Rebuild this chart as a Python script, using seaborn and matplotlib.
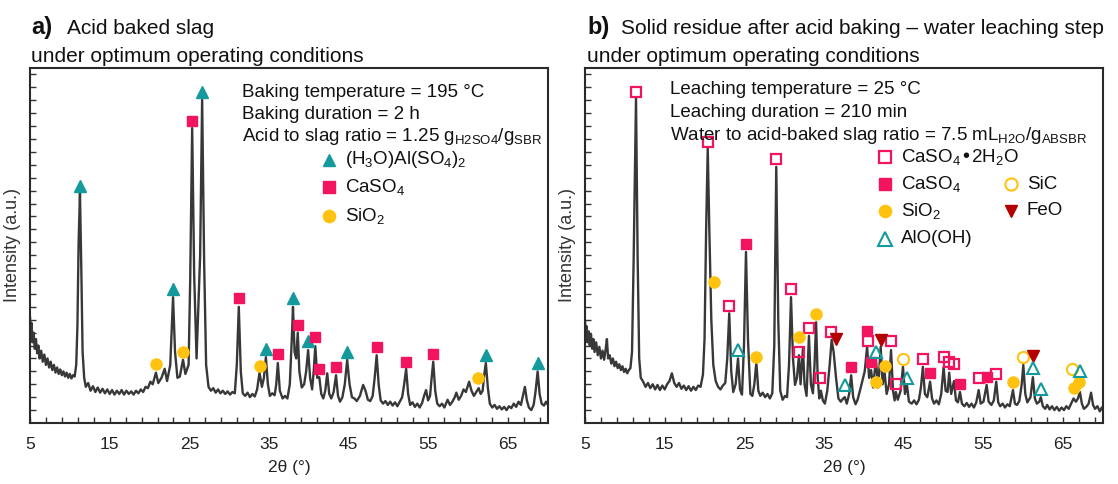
import matplotlib
matplotlib.use('Agg')
import matplotlib.pyplot as plt
from matplotlib.lines import Line2D
import pandas as pd
import seaborn as sns

# XRD traces: (2theta, intensity in a.u.)
trace_a = [
    (5.0, 1650), (5.1, 1350), (5.2, 1550), (5.3, 1250), (5.45, 1400), (5.6, 1150), (5.75, 1300),
    (5.9, 1080), (6.05, 1200), (6.2, 1000), (6.4, 1120), (6.6, 950), (6.8, 1060), (7.0, 900),
    (7.2, 1000), (7.4, 860), (7.6, 950), (7.8, 820), (8.0, 900), (8.2, 780), (8.4, 860),
    (8.6, 760), (8.8, 830), (9.0, 740), (9.2, 800), (9.4, 720), (9.6, 780), (9.8, 700),
    (10.0, 760), (10.2, 690), (10.4, 740), (10.6, 720), (10.8, 900), (10.95, 1500), (11.1, 2800),
    (11.27, 3565), (11.45, 2300), (11.6, 1100), (11.8, 700), (12.0, 560), (12.3, 620), (12.6, 500),
    (12.9, 570), (13.2, 480), (13.5, 550), (13.8, 470), (14.1, 530), (14.4, 460), (14.7, 520),
    (15.0, 450), (15.3, 510), (15.6, 440), (15.9, 500), (16.2, 450), (16.5, 510), (16.8, 440),
    (17.1, 500), (17.4, 450), (17.7, 490), (18.0, 440), (18.3, 500), (18.6, 460), (18.9, 520),
    (19.2, 480), (19.5, 560), (19.8, 540), (20.1, 640), (20.4, 600), (20.8, 780), (21.1, 620),
    (21.5, 700), (21.9, 840), (22.2, 650), (22.6, 900), (22.95, 1950), (23.2, 1100), (23.5, 700),
    (23.8, 720), (24.2, 980), (24.5, 760), (24.9, 900), (25.1, 2200), (25.35, 4570), (25.6, 2300),
    (25.9, 1000), (26.35, 2600), (26.6, 5010), (26.85, 2500), (27.1, 900), (27.4, 560), (27.7, 500),
    (28.0, 540), (28.3, 470), (28.6, 520), (28.9, 460), (29.2, 500), (29.5, 450), (29.8, 490),
    (30.1, 440), (30.4, 480), (30.7, 460), (30.95, 900), (31.2, 1800), (31.45, 800), (31.7, 460),
    (32.0, 420), (32.3, 470), (32.6, 400), (32.9, 450), (33.2, 410), (33.5, 520), (33.8, 780),
    (34.1, 560), (34.35, 700), (34.6, 1020), (34.85, 600), (35.1, 420), (35.4, 460), (35.7, 430),
    (35.9, 600), (36.1, 930), (36.35, 500), (36.7, 380), (37.0, 420), (37.3, 380), (37.6, 600),
    (37.85, 1300), (38.0, 1800), (38.2, 1100), (38.4, 1000), (38.6, 1400), (38.8, 800), (39.1, 550),
    (39.4, 600), (39.65, 800), (39.9, 1130), (40.15, 700), (40.4, 520), (40.6, 800), (40.8, 1190),
    (41.05, 700), (41.3, 710), (41.55, 450), (41.8, 380), (42.05, 500), (42.3, 770), (42.55, 450),
    (42.8, 380), (43.1, 480), (43.4, 740), (43.65, 420), (43.9, 330), (44.2, 400), (44.5, 600),
    (44.8, 980), (45.1, 600), (45.4, 400), (45.7, 380), (46.0, 340), (46.4, 420), (46.8, 590),
    (47.1, 500), (47.4, 360), (47.7, 340), (48.0, 420), (48.25, 700), (48.5, 1050), (48.75, 600),
    (49.0, 350), (49.3, 300), (49.6, 340), (49.9, 280), (50.2, 330), (50.5, 270), (50.8, 320),
    (51.1, 260), (51.4, 330), (51.7, 400), (51.95, 600), (52.2, 840), (52.45, 450), (52.7, 280),
    (53.0, 320), (53.3, 250), (53.6, 300), (53.9, 240), (54.2, 310), (54.45, 420), (54.7, 510),
    (54.95, 350), (55.2, 420), (55.4, 700), (55.6, 950), (55.85, 500), (56.1, 300), (56.4, 260),
    (56.7, 300), (57.0, 240), (57.4, 360), (57.7, 280), (58.0, 330), (58.3, 400), (58.5, 470),
    (58.8, 360), (59.1, 420), (59.4, 520), (59.7, 480), (60.1, 640), (60.4, 500), (60.7, 420),
    (61.0, 480), (61.3, 540), (61.55, 450), (61.8, 500), (62.0, 750), (62.2, 930), (62.45, 550),
    (62.7, 300), (63.0, 240), (63.3, 280), (63.6, 220), (63.9, 260), (64.2, 210), (64.5, 250),
    (64.8, 200), (65.1, 260), (65.4, 230), (65.7, 300), (66.0, 250), (66.3, 330), (66.6, 280),
    (66.85, 420), (67.1, 560), (67.35, 350), (67.6, 240), (67.9, 200), (68.2, 280), (68.45, 500),
    (68.7, 800), (68.95, 450), (69.2, 300), (69.5, 270), (69.75, 330), (70.0, 280),
]

trace_b = [
    (5.0, 1600), (5.1, 1300), (5.2, 1500), (5.3, 1250), (5.45, 1420), (5.6, 1200), (5.75, 1380),
    (5.9, 1150), (6.05, 1300), (6.2, 1100), (6.4, 1250), (6.6, 1050), (6.8, 1180), (7.0, 1000),
    (7.2, 1120), (7.4, 980), (7.6, 1150), (7.75, 1300), (7.9, 1000), (8.1, 1050), (8.3, 920),
    (8.5, 1000), (8.7, 880), (8.9, 950), (9.1, 850), (9.3, 910), (9.5, 820), (9.7, 880),
    (9.9, 790), (10.1, 840), (10.3, 770), (10.5, 820), (10.7, 850), (10.9, 1100), (11.1, 2500),
    (11.4, 5040), (11.6, 2600), (11.8, 1000), (12.0, 700), (12.3, 640), (12.6, 560), (12.9, 620),
    (13.2, 540), (13.5, 600), (13.8, 520), (14.1, 590), (14.4, 510), (14.7, 580), (15.0, 520),
    (15.3, 600), (15.6, 650), (15.9, 770), (16.2, 620), (16.5, 560), (16.8, 620), (17.1, 530),
    (17.4, 580), (17.7, 510), (18.0, 570), (18.3, 500), (18.6, 560), (18.9, 510), (19.2, 580),
    (19.5, 560), (19.8, 750), (20.0, 1300), (20.2, 3000), (20.4, 4260), (20.6, 3000), (20.85, 1600),
    (21.1, 900), (21.4, 650), (21.7, 560), (22.0, 520), (22.3, 580), (22.6, 620), (22.85, 1000),
    (23.1, 1700), (23.35, 800), (23.6, 480), (23.9, 600), (24.2, 1000), (24.45, 520), (24.7, 440),
    (24.95, 1200), (25.2, 2650), (25.45, 1300), (25.75, 450), (26.0, 420), (26.25, 600), (26.5, 940),
    (26.75, 500), (27.0, 420), (27.3, 470), (27.6, 400), (27.9, 450), (28.2, 380), (28.5, 460),
    (28.75, 1200), (29.0, 3970), (29.25, 1600), (29.5, 500), (29.8, 360), (30.1, 420), (30.35, 400),
    (30.6, 900), (30.85, 1950), (31.1, 1000), (31.35, 590), (31.6, 700), (31.85, 1050), (32.05, 600),
    (32.35, 1160), (32.55, 600), (32.8, 420), (33.1, 1350), (33.35, 600), (33.6, 460), (33.8, 900),
    (34.0, 1560), (34.2, 700), (34.4, 380), (34.6, 500), (34.85, 350), (35.1, 300), (35.4, 500),
    (35.7, 900), (35.95, 1290), (36.2, 1100), (36.5, 700), (36.8, 380), (37.1, 330), (37.4, 380),
    (37.6, 400), (37.85, 300), (38.15, 450), (38.4, 740), (38.65, 400), (38.95, 290), (39.2, 360),
    (39.5, 500), (39.8, 650), (40.1, 800), (40.4, 1180), (40.65, 700), (40.9, 820), (41.15, 550),
    (41.5, 980), (41.8, 550), (42.1, 1180), (42.35, 600), (42.6, 780), (42.85, 450), (43.15, 600),
    (43.4, 1130), (43.65, 500), (43.85, 350), (44.0, 480), (44.25, 360), (44.6, 500), (44.9, 870),
    (45.15, 450), (45.4, 590), (45.65, 330), (46.0, 300), (46.3, 350), (46.6, 290), (46.9, 360),
    (47.15, 550), (47.4, 870), (47.65, 450), (47.95, 400), (48.3, 640), (48.55, 380), (48.8, 300),
    (49.1, 350), (49.4, 290), (49.7, 450), (50.0, 870), (50.25, 500), (50.5, 480), (50.7, 780),
    (50.95, 450), (51.3, 650), (51.55, 350), (51.8, 320), (52.05, 480), (52.3, 300), (52.6, 260),
    (52.9, 310), (53.2, 250), (53.5, 300), (53.8, 240), (54.1, 320), (54.4, 510), (54.65, 300),
    (55.0, 330), (55.4, 590), (55.65, 330), (56.0, 280), (56.3, 350), (56.6, 640), (56.85, 320),
    (57.1, 260), (57.4, 300), (57.7, 240), (58.0, 290), (58.3, 260), (58.7, 510), (58.95, 300),
    (59.2, 280), (59.5, 340), (59.8, 600), (60.0, 900), (60.25, 450), (60.5, 320), (60.9, 400),
    (61.2, 710), (61.45, 380), (61.7, 300), (62.0, 330), (62.2, 400), (62.45, 260), (62.75, 220),
    (63.0, 280), (63.3, 210), (63.6, 260), (63.9, 200), (64.2, 250), (64.5, 190), (64.8, 240),
    (65.1, 200), (65.4, 260), (65.7, 220), (66.0, 300), (66.3, 380), (66.6, 330), (66.85, 380),
    (67.1, 480), (67.35, 300), (67.6, 220), (67.9, 250), (68.2, 300), (68.5, 470), (68.75, 280),
    (69.0, 220), (69.3, 260), (69.6, 180), (69.85, 240), (70.0, 200),
]

# phase markers, panel a
h3oal_a_theta = [11.27, 22.95, 26.6, 34.6, 38.0, 39.9, 44.8, 62.2, 68.7]
h3oal_a_int = [3674, 2077, 5131, 1147, 1938, 1271, 1100, 1054, 930]
caso4_a_theta = [25.35, 31.2, 36.1, 38.6, 40.8, 41.3, 43.4, 48.5, 52.2, 55.6]
caso4_a_int = [4681, 1938, 1070, 1519, 1333, 837, 868, 1178, 946, 1070]
sio2_a_theta = [20.8, 24.2, 33.9, 61.2]
sio2_a_int = [915, 1100, 884, 698]

# phase markers, panel b
gyps_b_theta = [11.4, 20.4, 23.1, 29.0, 30.85, 31.85, 33.1, 34.5, 35.9, 40.5, 43.4, 44.0,
                47.4, 50.0, 50.7, 51.3, 54.4, 56.6]
gyps_b_int = [5131, 4356, 1814, 4092, 2077, 1100, 1473, 698, 1411, 1271, 1271, 605,
              992, 1023, 946, 915, 698, 760]
caso4_b_theta = [25.2, 38.4, 40.4, 40.9, 48.3, 52.05, 55.4]
caso4_b_int = [2775, 868, 1426, 946, 775, 605, 713]
sio2_b_theta = [21.2, 26.5, 31.85, 34.0, 41.5, 42.6, 58.7, 67.0, 66.4]
sio2_b_int = [2186, 1023, 1333, 1690, 636, 884, 636, 636, 543]
sic_b_theta = [44.9, 60.0, 66.1]
sic_b_int = [992, 1023, 837]
feo_b_theta = [36.5, 42.1, 61.2]
feo_b_int = [1302, 1287, 1039]
aloh_b_theta = [24.2, 37.6, 41.5, 45.4, 61.2, 62.2, 67.1]
aloh_b_int = [1132, 589, 1100, 698, 853, 527, 806]

TEAL = '#129a9c'
PINK = '#f2145f'
GOLD = '#ffc20e'
DARKRED = '#b30000'
LINE = '#383838'

styles = {
    'h3oal': dict(marker='^', mfc=TEAL, mec=TEAL, ms=8.5, mew=1),
    'caso4': dict(marker='s', mfc=PINK, mec=PINK, ms=7.5, mew=1),
    'sio2': dict(marker='o', mfc=GOLD, mec=GOLD, ms=8, mew=1),
    'gyps': dict(marker='s', mfc='none', mec=PINK, ms=7.5, mew=1.6),
    'sic': dict(marker='o', mfc='none', mec=GOLD, ms=8, mew=1.5),
    'feo': dict(marker='v', mfc=DARKRED, mec=DARKRED, ms=8, mew=1),
    'aloh': dict(marker='^', mfc='none', mec=TEAL, ms=9, mew=1.5),
}

sns.set_style('ticks')
plt.rcParams['font.family'] = ['Liberation Sans', 'DejaVu Sans']
plt.rcParams['mathtext.default'] = 'regular'
plt.rcParams['text.color'] = '#111111'

W, H = 1118, 484
fig = plt.figure(figsize=(W / 100, H / 100), dpi=100)


def px_rect(left, top, right, bottom):
    return [left / W, 1 - bottom / H, (right - left) / W, (bottom - top) / H]


def fxy(px, py):
    return px / W, 1 - py / H


axA = fig.add_axes(px_rect(30, 68, 548, 423))
axB = fig.add_axes(px_rect(585, 68, 1103, 423))


def draw_trace(ax, trace):
    df = pd.DataFrame(trace, columns=['theta', 'counts'])
    sns.lineplot(data=df, x='theta', y='counts', ax=ax, color=LINE, linewidth=1.7,
                 estimator=None, sort=False)


def style_axes(ax):
    ax.set_xlim(5, 70)
    ax.set_ylim(0, 5500)
    ticks = list(range(5, 70, 2))
    ax.set_xticks(ticks)
    ax.set_xticklabels([str(t) if (t - 5) % 10 == 0 else '' for t in ticks])
    ax.set_yticks(list(range(200, 5500, 200)))
    ax.set_yticklabels([])
    ax.tick_params(axis='both', direction='in', length=4.5, width=1, color='#333333')
    ax.tick_params(axis='x', labelsize=12.5, pad=10, labelcolor='#222222')
    ax.tick_params(axis='y', length=4)
    for s in ax.spines.values():
        s.set_visible(True)
        s.set_linewidth(1.5)
        s.set_color('#2a2a2a')
    ax.set_xlabel('2θ (°)', fontsize=12.5, labelpad=6, color='#222222')
    ax.set_ylabel('Intensity (a.u.)', fontsize=13, labelpad=3, color='#333333')


draw_trace(axA, trace_a)
draw_trace(axB, trace_b)

axA.plot(h3oal_a_theta, h3oal_a_int, ls='none', **styles['h3oal'])
axA.plot(caso4_a_theta, caso4_a_int, ls='none', **styles['caso4'])
axA.plot(sio2_a_theta, sio2_a_int, ls='none', **styles['sio2'])

axB.plot(gyps_b_theta, gyps_b_int, ls='none', **styles['gyps'])
axB.plot(caso4_b_theta, caso4_b_int, ls='none', **styles['caso4'])
axB.plot(sio2_b_theta, sio2_b_int, ls='none', **styles['sio2'])
axB.plot(sic_b_theta, sic_b_int, ls='none', **styles['sic'])
axB.plot(feo_b_theta, feo_b_int, ls='none', **styles['feo'])
axB.plot(aloh_b_theta, aloh_b_int, ls='none', **styles['aloh'])

style_axes(axA)
style_axes(axB)

# titles
fig.text(*fxy(31, 34), 'a)', fontsize=17, fontweight='bold', va='baseline')
fig.text(*fxy(67, 34), 'Acid baked slag', fontsize=15, va='baseline')
fig.text(*fxy(31, 62), 'under optimum operating conditions', fontsize=15, va='baseline')
fig.text(*fxy(587, 34), 'b)', fontsize=17, fontweight='bold', va='baseline')
fig.text(*fxy(621, 34), 'Solid residue after acid baking – water leaching step', fontsize=15, va='baseline')
fig.text(*fxy(587, 62), 'under optimum operating conditions', fontsize=15, va='baseline')

# operating conditions
cond_a = ['Baking temperature = 195 °C', 'Baking duration = 2 h',
          'Acid to slag ratio = 1.25 g$_{H2SO4}$/g$_{SBR}$']
for txt, py in zip(cond_a, [97, 119, 141]):
    fig.text(*fxy(242, py), txt, fontsize=13.5, va='baseline')
cond_b = ['Leaching temperature = 25 °C', 'Leaching duration = 210 min',
          'Water to acid-baked slag ratio = 7.5 mL$_{H2O}$/g$_{ABSBR}$']
for txt, py in zip(cond_b, [94, 117, 140]):
    fig.text(*fxy(670, py), txt, fontsize=13.5, va='baseline')


def legend_item(px, py, key, label):
    x, y = fxy(px, py)
    st = dict(styles[key])
    st['ms'] = st['ms'] + 0.8
    fig.add_artist(Line2D([x], [y], ls='none', transform=fig.transFigure, **st))
    fig.text(x + 16 / W, y, label, fontsize=13.5, va='center')


legend_item(329, 160, 'h3oal', '(H$_3$O)Al(SO$_4$)$_2$')
legend_item(329, 187, 'caso4', 'CaSO$_4$')
legend_item(329, 216, 'sio2', 'SiO$_2$')

legend_item(885, 157, 'gyps', 'CaSO$_4$•2H$_2$O')
legend_item(885, 184, 'caso4', 'CaSO$_4$')
legend_item(885, 211, 'sio2', 'SiO$_2$')
legend_item(885, 239, 'aloh', 'AlO(OH)')
legend_item(1011, 184, 'sic', 'SiC')
legend_item(1011, 211, 'feo', 'FeO')

fig.savefig('out.png', dpi=100)
